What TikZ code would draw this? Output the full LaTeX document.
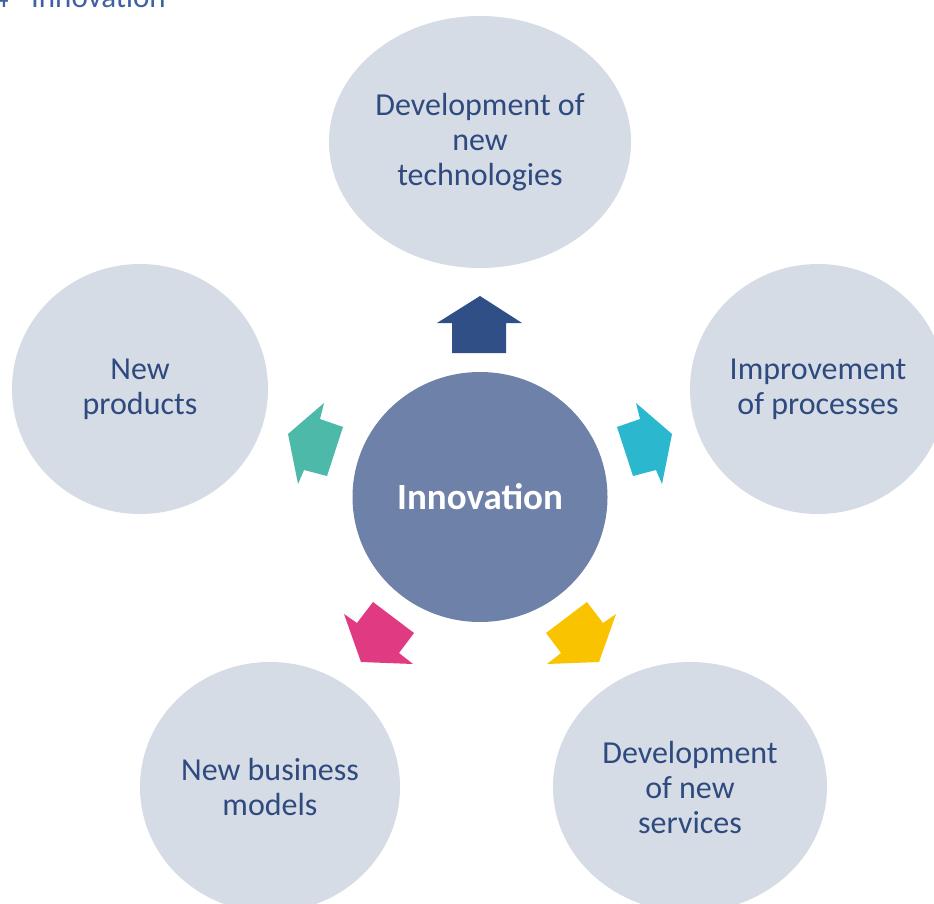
\documentclass[tikz,border=0pt]{standalone}
\usepackage{fontspec}
\setmainfont{Carlito}
\usetikzlibrary{shapes.geometric}
\definecolor{bubble}{HTML}{D6DCE5}
\definecolor{core}{HTML}{6E81A8}
\definecolor{txt}{HTML}{2E4A7E}
\definecolor{titletxt}{HTML}{3F62A0}
\definecolor{arrblue}{HTML}{2F4F86}
\definecolor{arrteal}{HTML}{4DB9A9}
\definecolor{arrcyan}{HTML}{2BB8CF}
\definecolor{arrpink}{HTML}{E03A82}
\definecolor{arryellow}{HTML}{F9C300}
\begin{document}
\begin{tikzpicture}[x=1pt,y=-1pt,
  bubblenode/.style={ellipse,fill=bubble,draw=none,inner sep=0pt,align=center,
    text=txt,font=\fontsize{32}{35}\selectfont},
  corenode/.style={ellipse,fill=core,draw=none,inner sep=0pt,align=center,
    text=white,font=\fontsize{37}{40}\selectfont\bfseries},
  arrowshape/.style={draw=none}]
\useasboundingbox (0,0) rectangle (934,904);
\fill[white] (0,0) rectangle (934,904);
\node[anchor=base east,text=titletxt,font=\fontsize{31}{36}\selectfont,inner sep=0pt] (title) at (166,8) {Figure 4– Innovation};
\node[bubblenode,minimum width=302pt,minimum height=252pt] (top) at (480,142) {Development of\\new\\technologies};
\node[bubblenode,minimum width=256pt,minimum height=250pt] (left) at (140,389) {New\\products};
\node[bubblenode,minimum width=256pt,minimum height=250pt] (right) at (818,389) {Improvement\\of processes};
\node[bubblenode,minimum width=260pt,minimum height=250pt] (bl) at (270,787) {New business\\models};
\node[bubblenode,minimum width=274pt,minimum height=250pt] (br) at (690,787) {Development\\of new\\services};
\node[corenode,minimum width=255pt,minimum height=250pt] (core) at (480,497) {Innovation};
% arrows
\fill[arrblue] (452,353) -- (452,323) -- (437,323) -- (480,296) -- (522,323) -- (506,323) -- (506,353) -- cycle;
\fill[arrteal] (288,434) -- (324,403) -- (320,419) -- (343,427) -- (327,476) -- (304,470) -- (298,484) -- cycle;
\fill[arrcyan] (672,434) -- (636,403) -- (640,419) -- (617,427) -- (633,476) -- (656,470) -- (662,484) -- cycle;
\fill[arrpink] (344,614) -- (357,623) -- (373,602) -- (414,633) -- (399,653) -- (413,664) -- (361,662) -- cycle;
\fill[arryellow] (616,614) -- (603,623) -- (587,602) -- (546,633) -- (561,653) -- (547,664) -- (599,662) -- cycle;
\end{tikzpicture}
\end{document}
